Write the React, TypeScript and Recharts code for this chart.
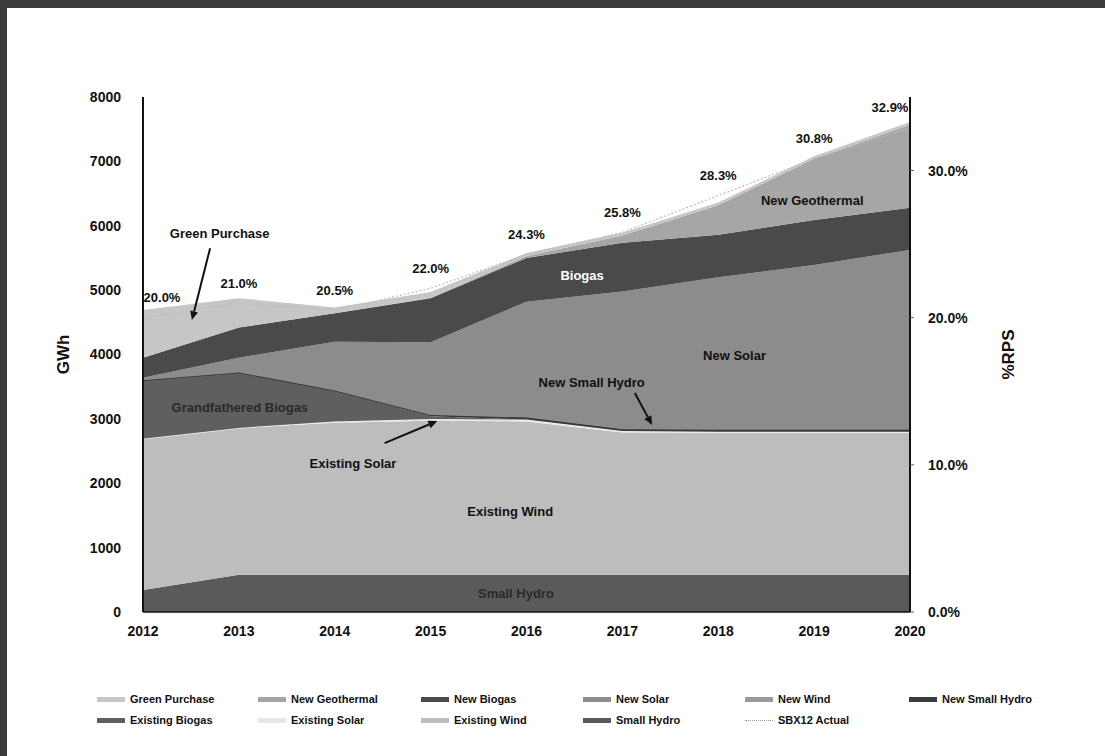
import React from "react";
import {
  ComposedChart,
  Area,
  Line,
  XAxis,
  YAxis,
  ReferenceDot,
  ReferenceLine,
} from "recharts";

const years = [2012, 2013, 2014, 2015, 2016, 2017, 2018, 2019, 2020];

// GWh per resource (stacked bottom to top)
const smallHydro = [340, 580, 580, 580, 580, 580, 580, 580, 580];
const existingWind = [2350, 2280, 2360, 2390, 2380, 2210, 2200, 2200, 2200];
const existingSolar = [0, 0, 20, 30, 30, 20, 20, 20, 20];
const existingBiogas = [910, 860, 480, 40, 0, 0, 0, 0, 0];
const newSmallHydro = [0, 0, 0, 20, 30, 30, 30, 30, 30];
const newWind = [0, 0, 0, 0, 0, 0, 0, 0, 0];
const newSolar = [40, 230, 760, 1130, 1800, 2140, 2370, 2560, 2795];
const newBiogas = [310, 470, 440, 685, 680, 755, 660, 700, 655];
const newGeothermal = [0, 0, 0, 5, 30, 115, 460, 950, 1290];
const greenPurchase = [740, 455, 90, 90, 45, 40, 40, 40, 40];

// %RPS
const sbx12Actual = [0.2, 0.21, 0.205, 0.22, 0.243, 0.258, 0.283, 0.308, 0.329];

const gwhTicks = [0, 1000, 2000, 3000, 4000, 5000, 6000, 7000, 8000];
const rpsTicks = [0, 0.1, 0.2, 0.3];

const data = years.map((year, i) => ({
  year,
  smallHydro: smallHydro[i],
  existingWind: existingWind[i],
  existingSolar: existingSolar[i],
  existingBiogas: existingBiogas[i],
  newSmallHydro: newSmallHydro[i],
  newWind: newWind[i],
  newSolar: newSolar[i],
  newBiogas: newBiogas[i],
  newGeothermal: newGeothermal[i],
  greenPurchase: greenPurchase[i],
  sbx12: sbx12Actual[i],
}));

const series = [
  { key: "smallHydro", name: "Small Hydro", color: "#5a5a5a" },
  { key: "existingWind", name: "Existing Wind", color: "#bdbdbd" },
  { key: "existingSolar", name: "Existing Solar", color: "#e6e6e6" },
  { key: "existingBiogas", name: "Existing Biogas", color: "#5f5f5f" },
  { key: "newSmallHydro", name: "New Small Hydro", color: "#3a3a3a" },
  { key: "newWind", name: "New Wind", color: "#9a9a9a" },
  { key: "newSolar", name: "New Solar", color: "#8c8c8c" },
  { key: "newBiogas", name: "New Biogas", color: "#4a4a4a" },
  { key: "newGeothermal", name: "New Geothermal", color: "#a6a6a6" },
  { key: "greenPurchase", name: "Green Purchase", color: "#c6c6c6" },
];

const legendRows = [
  ["greenPurchase", "newGeothermal", "newBiogas", "newSolar", "newWind", "newSmallHydro"],
  ["existingBiogas", "existingSolar", "existingWind", "smallHydro", "sbx12"],
];

const font = "'Liberation Sans', Arial, sans-serif";

// chart annotations, in data units
const notes = [
  { text: "Green Purchase", x: 2012.8, y: 5885, color: "#111" },
  { text: "Biogas", x: 2016.58, y: 5233, color: "#fff" },
  { text: "New Geothermal", x: 2018.98, y: 6398, color: "#111" },
  { text: "New Solar", x: 2018.17, y: 3991, color: "#111" },
  { text: "New Small Hydro", x: 2016.68, y: 3571, color: "#111" },
  { text: "Grandfathered Biogas", x: 2013.01, y: 3183, color: "#2a2a2a" },
  { text: "Existing Solar", x: 2014.19, y: 2314, color: "#111" },
  { text: "Existing Wind", x: 2015.83, y: 1568, color: "#111" },
  { text: "Small Hydro", x: 2015.89, y: 295, color: "#2a2a2a" },
];

const arrows = [
  { from: { x: 2012.7, y: 5652 }, to: { x: 2012.51, y: 4534 } },
  { from: { x: 2017.13, y: 3401 }, to: { x: 2017.31, y: 2904 } },
  { from: { x: 2014.52, y: 2624 }, to: { x: 2015.07, y: 2966 } },
];

function Arrow(props: any) {
  const { x1, y1, x2, y2 } = props;
  const a = Math.atan2(y2 - y1, x2 - x1);
  const L = 9;
  const W = 4;
  const bx = x2 - L * Math.cos(a);
  const by = y2 - L * Math.sin(a);
  const px = -Math.sin(a) * W;
  const py = Math.cos(a) * W;
  return (
    <g>
      <line x1={x1} y1={y1} x2={bx} y2={by} stroke="#111" strokeWidth={2} />
      <polygon
        points={`${x2},${y2} ${bx + px},${by + py} ${bx - px},${by - py}`}
        fill="#111"
      />
    </g>
  );
}

function PctLabel(props: any) {
  const { x, y, value, index } = props;
  let dx = 0;
  if (index === 0) dx = 19;
  if (index === years.length - 1) dx = -20;
  return (
    <text
      x={x + dx}
      y={y - 20}
      textAnchor="middle"
      dominantBaseline="central"
      fontFamily={font}
      fontWeight="bold"
      fontSize={13}
      fill="#111"
    >
      {(value * 100).toFixed(1) + "%"}
    </text>
  );
}

export default function App() {
  const colorOf = (k: string) => series.find((s) => s.key === k);
  const colX = [97, 258, 421, 583, 745, 909];
  const rowY = [699, 720];

  return (
    <div
      style={{
        position: "absolute",
        left: 0,
        top: 0,
        width: 1105,
        height: 756,
        background: "#fff",
        overflow: "hidden",
        fontFamily: font,
      }}
    >
      {/* scanned page edge */}
      <div style={{ position: "absolute", left: 0, top: 0, width: 1105, height: 8, background: "#3c3c3c" }} />
      <div style={{ position: "absolute", left: 0, top: 0, width: 7, height: 756, background: "#3c3c3c" }} />

      <div style={{ position: "absolute", left: 0, top: 0 }}>
        <ComposedChart
          width={1105}
          height={660}
          data={data}
          margin={{ top: 97, right: 75, left: 43, bottom: 18 }}
        >
          <XAxis
            dataKey="year"
            type="number"
            domain={[2012, 2020]}
            ticks={years}
            tickLine={false}
            axisLine={{ stroke: "#111", strokeWidth: 1.5 }}
            tick={{ fill: "#111", fontSize: 14, fontWeight: "bold", fontFamily: font }}
            tickMargin={8}
            height={30}
          />
          <YAxis
            yAxisId="left"
            domain={[0, 8000]}
            ticks={gwhTicks}
            width={100}
            tickLine={false}
            axisLine={{ stroke: "#111", strokeWidth: 2 }}
            tick={{ fill: "#111", fontSize: 14, fontWeight: "bold", fontFamily: font }}
            tickMargin={16}
            label={{
              value: "GWh",
              angle: -90,
              position: "insideLeft",
              offset: 20,
              style: { fill: "#111", fontSize: 17, fontWeight: "bold", fontFamily: font, textAnchor: "middle" },
            }}
          />
          <YAxis
            yAxisId="right"
            orientation="right"
            domain={[0, 0.35]}
            ticks={rpsTicks}
            width={120}
            tickSize={4}
            tickLine={{ stroke: "#555" }}
            axisLine={{ stroke: "#111", strokeWidth: 2 }}
            tick={{ fill: "#111", fontSize: 14, fontWeight: "bold", fontFamily: font }}
            tickMargin={14}
            tickFormatter={(v: number) => (v * 100).toFixed(1) + "%"}
            label={{
              value: "%RPS",
              angle: -90,
              position: "insideRight",
              offset: 22,
              style: { fill: "#111", fontSize: 17, fontWeight: "bold", fontFamily: font, textAnchor: "middle" },
            }}
          />
          {series.map((s) => (
            <Area
              key={s.key}
              yAxisId="left"
              type="linear"
              dataKey={s.key}
              name={s.name}
              stackId="gwh"
              fill={s.color}
              fillOpacity={1}
              stroke={
                s.key === "existingSolar" ? "#f2f2f2" : s.key === "newSmallHydro" ? "#333" : "none"
              }
              strokeWidth={s.key === "existingSolar" || s.key === "newSmallHydro" ? 1.5 : 0}
              isAnimationActive={false}
              dot={false}
              activeDot={false}
            />
          ))}
          <Line
            yAxisId="right"
            type="linear"
            dataKey="sbx12"
            name="SBX12 Actual"
            stroke="#bdbdbd"
            strokeWidth={1.2}
            strokeDasharray="2 2"
            dot={false}
            isAnimationActive={false}
            label={PctLabel}
          />
          {arrows.map((a, i) => (
            <ReferenceLine
              key={"arrow" + i}
              yAxisId="left"
              ifOverflow="visible"
              segment={[a.from, a.to]}
              shape={Arrow}
            />
          ))}
          {notes.map((n) => (
            <ReferenceDot
              key={n.text}
              yAxisId="left"
              x={n.x}
              y={n.y}
              r={0}
              ifOverflow="visible"
              shape={(p: any) => (
                <text
                  x={p.cx}
                  y={p.cy}
                  textAnchor="middle"
                  dominantBaseline="central"
                  fontFamily={font}
                  fontWeight="bold"
                  fontSize={13}
                  fill={n.color}
                >
                  {n.text}
                </text>
              )}
            />
          ))}
        </ComposedChart>
      </div>

      {/* Legend */}
      {legendRows.map((row, r) =>
        row.map((k, c) => {
          const s = colorOf(k);
          const isLine = k === "sbx12";
          return (
            <div
              key={k}
              style={{
                position: "absolute",
                left: colX[c],
                top: rowY[r] - 8,
                height: 16,
                display: "flex",
                alignItems: "center",
                fontSize: 11,
                fontWeight: "bold",
                color: "#111",
                whiteSpace: "nowrap",
              }}
            >
              <span
                style={{
                  display: "inline-block",
                  width: 28,
                  height: isLine ? 0 : 5,
                  background: isLine ? "transparent" : s?.color,
                  borderTop: isLine ? "1.5px dotted #999" : "none",
                  marginRight: 5,
                }}
              />
              {isLine ? "SBX12 Actual" : s?.name}
            </div>
          );
        })
      )}
    </div>
  );
}
